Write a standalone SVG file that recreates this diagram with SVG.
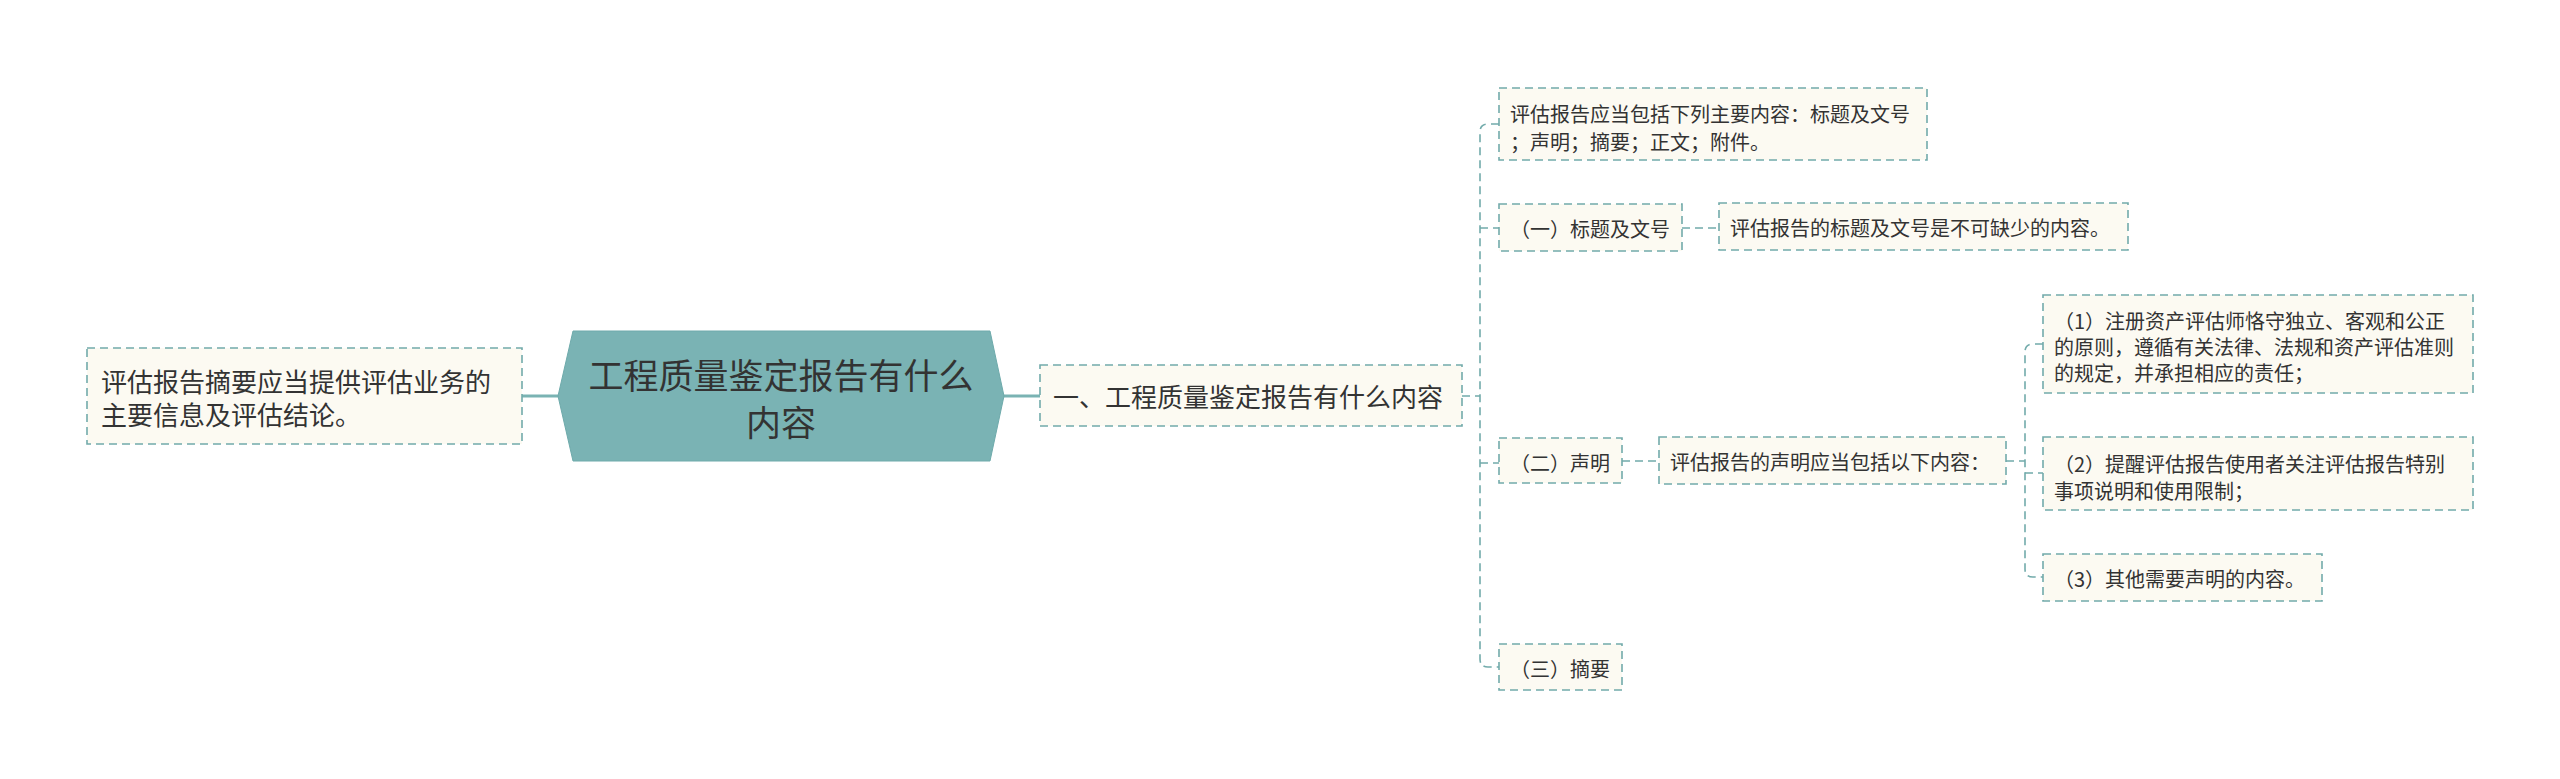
<svg xmlns="http://www.w3.org/2000/svg" width="2560" height="779" viewBox="0 0 2560 779">
<defs>
<style>
.box{fill:#fcfaf2;stroke:#72abab;stroke-width:1.6;stroke-dasharray:8 5}
.t{font-family:"Noto Sans CJK SC","Noto Sans",sans-serif;fill:#333333;dominant-baseline:central}
.t20{font-size:20px}
.t26{font-size:26px}
.root{font-family:"Noto Sans CJK SC","Noto Sans",sans-serif;font-size:35px;fill:#333333;dominant-baseline:central;text-anchor:middle}
.dl{fill:none;stroke:#72abab;stroke-width:1.6;stroke-dasharray:8 5}
.sl{fill:none;stroke:#7ab3b3;stroke-width:3}
</style>
</defs>
<rect width="2560" height="779" fill="#ffffff"/>
<g id="connectors">
<path class="sl" d="M522,396 H560"/>
<path class="sl" d="M1002,396 H1040"/>
<path class="dl" d="M1462,396 H1480"/>
<path class="dl" d="M1499,124 H1488 Q1480,124 1480,132 V659 Q1480,667 1488,667 H1499"/>
<path class="dl" d="M1480,228 H1499"/>
<path class="dl" d="M1480,463 H1499"/>
<path class="dl" d="M1682,228 H1719"/>
<path class="dl" d="M1622,461 H1659"/>
<path class="dl" d="M2006,461 H2025"/>
<path class="dl" d="M2043,344 H2033 Q2025,344 2025,352 V569 Q2025,577 2033,577 H2043"/>
<path class="dl" d="M2025,473 H2043"/>
</g>
<g id="node-summary">
<rect class="box" x="87" y="348" width="435" height="96"/>
<text class="t t26" x="101" y="380">评估报告摘要应当提供评估业务的</text>
<text class="t t26" x="101" y="413">主要信息及评估结论。</text>
</g>
<g id="node-root">
<polygon points="573,331 990,331 1004,396 990,461 573,461 558,396" fill="#7ab3b4" stroke="#6eaaab" stroke-width="1"/>
<text class="root" x="781" y="373">工程质量鉴定报告有什么</text>
<text class="root" x="781" y="420">内容</text>
</g>
<g id="node-level1">
<rect class="box" x="1040" y="365" width="422" height="61"/>
<text class="t t26" x="1053" y="395">一、工程质量鉴定报告有什么内容</text>
</g>
<g id="node-contents">
<rect class="box" x="1499" y="88" width="428" height="72"/>
<text class="t t20" x="1510" y="113">评估报告应当包括下列主要内容：标题及文号</text>
<text class="t t20" x="1510" y="141">；声明；摘要；正文；附件。</text>
</g>
<g id="node-title">
<rect class="box" x="1499" y="204" width="183" height="47"/>
<text class="t t20" x="1510" y="228">（一）标题及文号</text>
</g>
<g id="node-title-desc">
<rect class="box" x="1719" y="203" width="409" height="47"/>
<text class="t t20" x="1730" y="227">评估报告的标题及文号是不可缺少的内容。</text>
</g>
<g id="node-statement">
<rect class="box" x="1499" y="438" width="123" height="45"/>
<text class="t t20" x="1510" y="462">（二）声明</text>
</g>
<g id="node-statement-desc">
<rect class="box" x="1659" y="437" width="347" height="47"/>
<text class="t t20" x="1670" y="461">评估报告的声明应当包括以下内容：</text>
</g>
<g id="node-s1">
<rect class="box" x="2043" y="295" width="430" height="98"/>
<text class="t t20" x="2054" y="320">（1）注册资产评估师恪守独立、客观和公正</text>
<text class="t t20" x="2054" y="346">的原则，遵循有关法律、法规和资产评估准则</text>
<text class="t t20" x="2054" y="372">的规定，并承担相应的责任；</text>
</g>
<g id="node-s2">
<rect class="box" x="2043" y="437" width="430" height="73"/>
<text class="t t20" x="2054" y="463">（2）提醒评估报告使用者关注评估报告特别</text>
<text class="t t20" x="2054" y="490">事项说明和使用限制；</text>
</g>
<g id="node-s3">
<rect class="box" x="2043" y="554" width="279" height="47"/>
<text class="t t20" x="2054" y="578">（3）其他需要声明的内容。</text>
</g>
<g id="node-abstract">
<rect class="box" x="1499" y="644" width="123" height="46"/>
<text class="t t20" x="1510" y="668">（三）摘要</text>
</g>
</svg>
